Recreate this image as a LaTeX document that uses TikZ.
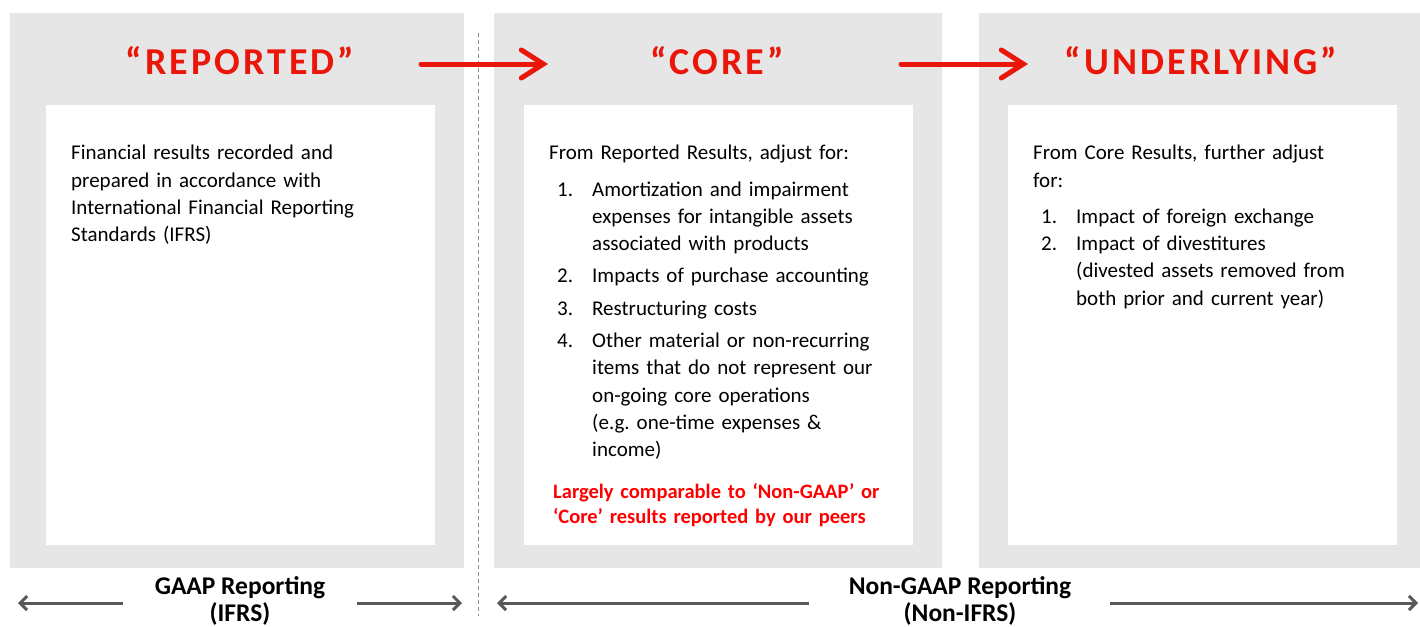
\documentclass[tikz,border=0pt]{standalone}
\usepackage{fontspec}
\setmainfont{Carlito}
\newfontfamily\headfont[LetterSpace=8]{Carlito}
\usetikzlibrary{arrows.meta}
\frenchspacing

\definecolor{panelgray}{RGB}{230,230,230}
\definecolor{headred}{RGB}{234,22,10}
\definecolor{notered}{RGB}{255,0,0}
\definecolor{spangray}{RGB}{89,89,89}
\definecolor{dashgray}{RGB}{140,140,140}

% numbered entry with hanging lines
\newcommand{\numitem}[2]{\par\noindent\hspace*{8pt}\makebox[35pt][l]{#1}\parbox[t]{300pt}{\raggedright #2\strut}\par\prevdepth=\dp\strutbox}

\begin{document}
\begin{tikzpicture}[x = 1pt, y = -1pt,
    panel/.style = {fill = panelgray, draw = none, minimum width = #1, minimum height = 555pt, anchor = north west, inner sep = 0pt},
    sheet/.style = {fill = white, draw = none, minimum width = 389pt, minimum height = 440pt, anchor = north west, inner sep = 0pt},
    heading/.style = {text = headred, font = \headfont\bfseries\fontsize{38}{42}\selectfont},
    body/.style = {anchor = north west, inner sep = 0pt, text width = 340pt, align = left, font = \fontsize{21}{27.3}\selectfont},
    span/.style = {align = center, font = \bfseries\fontsize{25.5}{27}\selectfont},
    redarrow/.style = {draw = headred, line width = 5pt, line cap = round, -{Straight Barb[length = 22pt, width = 28pt, line cap = round]}},
    grayarrow/.style = {draw = spangray, line width = 3pt, -{Straight Barb[length = 7pt, width = 14pt]}}]
    \useasboundingbox (0, 0) rectangle (1420, 626);

    % panels
    \node[panel = 454pt] (reported panel) at (10, 13) {};
    \node[panel = 448pt] (core panel) at (494, 13) {};
    \node[panel = 441pt] (underlying panel) at (979, 13) {};
    \node[sheet] (reported sheet) at (46, 105) {};
    \node[sheet] (core sheet) at (524, 105) {};
    \node[sheet] (underlying sheet) at (1008, 105) {};

    % divider
    \coordinate (divider top) at (478, 33);
    \coordinate (divider bottom) at (478, 616);
    \draw[dashgray, line width = 0.8pt, dash pattern = on 4pt off 3pt] (divider top) -- (divider bottom);

    % headings
    \node[heading] (reported) at (240, 61) {“REPORTED”};
    \node[heading] (core) at (717, 61) {“CORE”};
    \node[heading] (underlying) at (1201, 61) {“UNDERLYING”};
    \coordinate (reported out) at (421, 64);
    \coordinate (core in) at (548, 64);
    \coordinate (core out) at (901, 64);
    \coordinate (underlying in) at (1028, 64);
    \draw[redarrow] (reported out) -- (core in);
    \draw[redarrow] (core out) -- (underlying in);

    % texts
    \node[body] (reported text) at (71, 145) {Financial results recorded and\\ prepared in accordance with\\ International Financial Reporting\\ Standards (IFRS)};
    \node[body, text width = 360pt] (core text) at (549, 145) {From Reported Results, adjust for:\par\vspace{4pt}\setlength{\parskip}{5pt}
      \numitem{1.}{Amortization and impairment\\ expenses for intangible assets\\ associated with products}
      \numitem{2.}{Impacts of purchase accounting}
      \numitem{3.}{Restructuring costs}
      \numitem{4.}{Other material or non-recurring\\ items that do not represent our\\ on-going core operations\\ (e.g. one-time expenses \&\\ income)}};
    \node[body, text = notered, font = \bfseries\fontsize{20.5}{25}\selectfont] (core note) at (553, 483) {Largely comparable to ‘Non-GAAP’ or\\ ‘Core’ results reported by our peers};
    \node[body] (underlying text) at (1033, 145) {From Core Results, further adjust\\ for:\par\vspace{9pt}
      \numitem{1.}{Impact of foreign exchange}
      \numitem{2.}{Impact of divestitures\\ (divested assets removed from\\ both prior and current year)}};

    % reporting spans
    \node[span] (gaap) at (240, 601) {GAAP Reporting\\ (IFRS)};
    \node[span] (non gaap) at (960, 601) {Non-GAAP Reporting\\ (Non-IFRS)};
    \coordinate (gaap left) at (18, 603);
    \coordinate (gaap right) at (462, 603);
    \coordinate (non gaap left) at (497, 603);
    \coordinate (non gaap right) at (1418, 603);
    \draw[grayarrow] ([xshift = -28pt]gaap.west |- gaap left) -- (gaap left);
    \draw[grayarrow] ([xshift = 28pt]gaap.east |- gaap right) -- (gaap right);
    \draw[grayarrow] ([xshift = -36pt]non gaap.west |- non gaap left) -- (non gaap left);
    \draw[grayarrow] ([xshift = 35pt]non gaap.east |- non gaap right) -- (non gaap right);
\end{tikzpicture}
\end{document}
